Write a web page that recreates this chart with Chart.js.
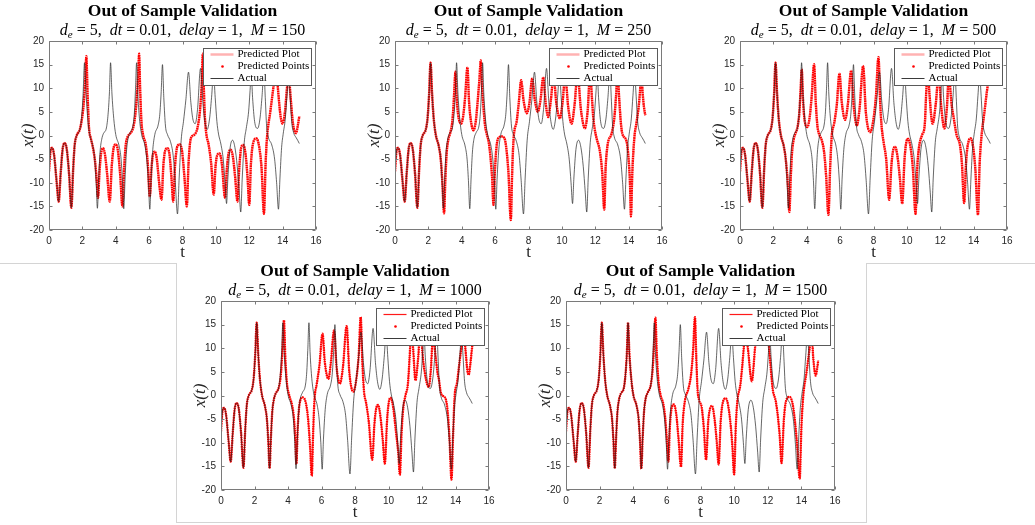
<!DOCTYPE html>
<html>
<head>
<meta charset="utf-8">
<script src="https://cdn.jsdelivr.net/npm/chart.js@4.4.1/dist/chart.umd.min.js"></script>
<style>
  html, body { margin: 0; padding: 0; background: #fff; }
  body { width: 1035px; height: 525px; position: relative; overflow: hidden; }
  canvas { position: absolute; }
  .rule { position: absolute; background: #d4d4d4; }
</style>
</head>
<body>
<div class="rule" style="left:0;top:263px;width:177px;height:1px"></div>
<div class="rule" style="left:176px;top:263px;width:1px;height:259px"></div>
<div class="rule" style="left:176px;top:522px;width:691px;height:1px"></div>
<div class="rule" style="left:866px;top:263px;width:1px;height:260px"></div>
<div class="rule" style="left:866px;top:263px;width:169px;height:1px"></div>

<canvas id="m150" width="345" height="263" style="left:0;top:0"></canvas>
<canvas id="m250" width="345" height="263" style="left:346px;top:0"></canvas>
<canvas id="m500" width="344" height="263" style="left:691px;top:0"></canvas>
<canvas id="m1000" width="346" height="263" style="left:172px;top:260px"></canvas>
<canvas id="m1500" width="347" height="263" style="left:517px;top:260px"></canvas>

<script>
// tick values
const xTickValues = [0, 2, 4, 6, 8, 10, 12, 14, 16];
const yTickValues = [-20, -15, -10, -5, 0, 5, 10, 15, 20];

// actual x(t), [t, x]
const actual = [
  [0,-7.6],[0.08,-3.6],[0.18,-2.6],[0.3,-4.0],[0.45,-9.5],[0.58,-14.0],[0.7,-8.0],[0.82,-2.8],[0.94,-1.6],
  [1.06,-2.8],[1.2,-8.0],[1.34,-15.3],[1.45,-7.0],[1.54,-2.0],[1.66,0.0],[1.84,1.2],[1.95,3.6],[2.04,8.5],
  [2.13,15.4],[2.22,9.0],[2.32,3.6],[2.44,0.2],[2.62,-2.2],[2.74,-5.0],[2.82,-9.5],[2.9,-15.4],[2.98,-9.0],
  [3.06,-3.5],[3.16,-0.8],[3.26,0.4],[3.44,1.6],[3.54,4.5],[3.62,9.0],[3.69,15.4],[3.77,9.0],[3.88,3.6],
  [4.0,0.2],[4.2,-2.2],[4.32,-5.0],[4.4,-9.5],[4.48,-15.5],[4.56,-9.0],[4.64,-3.5],[4.74,-0.6],[4.86,0.6],
  [5.04,2.2],[5.12,5.0],[5.18,9.5],[5.25,15.4],[5.32,9.0],[5.42,3.6],[5.55,0.2],[5.74,-2.0],[5.86,-5.0],
  [5.96,-10.0],[6.04,-15.6],[6.12,-9.0],[6.22,-3.0],[6.34,0.2],[6.54,2.2],[6.64,4.5],[6.72,9.0],[6.8,15.0],
  [6.88,8.0],[6.98,2.0],[7.1,0.2],[7.28,-1.3],[7.44,-4.2],[7.56,-9.5],[7.7,-16.6],[7.8,-9.0],[7.92,-1.0],
  [8.06,3.0],[8.2,7.5],[8.36,13.4],[8.5,7.0],[8.62,3.5],[8.76,2.5],[8.9,5.5],[9.08,14.2],[9.22,7.0],
  [9.34,3.0],[9.48,1.3],[9.62,3.5],[9.74,8.0],[9.86,13.0],[9.96,8.0],[10.06,3.0],[10.16,0.3],[10.3,-1.8],
  [10.44,-5.0],[10.55,-10.0],[10.64,-14.4],[10.72,-9.0],[10.84,-3.0],[11.0,-1.0],[11.14,-2.5],[11.28,-6.5],
  [11.4,-12.0],[11.49,-16.2],[11.58,-9.0],[11.7,-1.5],[11.82,1.5],[11.96,5.0],[12.04,9.0],[12.12,13.0],
  [12.2,8.0],[12.32,3.0],[12.5,1.5],[12.64,3.5],[12.76,8.0],[12.88,13.5],[12.96,8.0],[13.04,2.0],[13.14,-0.3],
  [13.35,-2.0],[13.52,-5.0],[13.64,-10.0],[13.75,-15.6],[13.84,-9.0],[13.94,-2.5],[14.04,0.5],[14.16,3.5],
  [14.26,8.5],[14.36,13.0],[14.44,9.0],[14.54,3.0],[14.66,0.6],[14.8,-0.4],[14.9,-1.0],[15.0,-1.7]
];

// predicted traces: red follows the black trace up to the given t, then these readings
const split150 = 1.84;
const pred150 = [
  [1.95,3.0],[2.06,6.0],[2.16,11.0],[2.24,16.8],[2.31,9.0],[2.4,1.5],[2.5,-0.5],[2.64,-2.7],[2.76,-5.5],
  [2.86,-9.5],[2.94,-13.2],[3.02,-8.0],[3.12,-3.8],[3.24,-2.7],[3.36,-4.2],[3.48,-8.0],[3.64,-14.0],[3.76,-6.5],
  [3.88,-2.5],[4.0,-1.9],[4.12,-3.0],[4.26,-8.0],[4.4,-15.0],[4.5,-7.0],[4.6,-2.0],[4.72,-0.2],[4.84,0.3],
  [5.04,1.6],[5.16,4.0],[5.26,8.0],[5.34,12.5],[5.4,17.3],[5.46,10.0],[5.54,2.9],[5.64,0.1],[5.8,-2.0],
  [5.92,-6.0],[6.04,-12.9],[6.14,-7.0],[6.24,-3.8],[6.34,-3.4],[6.46,-5.0],[6.6,-10.0],[6.74,-13.6],[6.86,-6.0],
  [6.98,-3.0],[7.1,-2.7],[7.22,-4.0],[7.34,-9.0],[7.44,-14.0],[7.56,-6.0],[7.7,-2.2],[7.84,-1.9],[7.98,-3.5],
  [8.12,-9.0],[8.26,-15.0],[8.36,-6.0],[8.5,-0.6],[8.69,0.1],[8.89,1.5],[9.04,5.0],[9.14,10.0],[9.22,17.3],
  [9.28,10.0],[9.34,4.0],[9.42,0.5],[9.57,-2.0],[9.72,-6.0],[9.87,-12.5],[9.98,-6.5],[10.1,-4.0],[10.22,-3.8],
  [10.36,-6.0],[10.55,-13.2],[10.66,-7.0],[10.78,-3.5],[10.89,-3.0],[11.02,-4.5],[11.16,-9.0],[11.29,-14.0],
  [11.4,-7.0],[11.52,-2.5],[11.64,-2.0],[11.78,-4.0],[11.9,-9.0],[12.0,-14.7],[12.1,-6.0],[12.24,-1.5],
  [12.43,-0.6],[12.6,-2.5],[12.74,-7.0],[12.88,-16.6],[12.98,-6.0],[13.06,-0.6],[13.26,5.0],[13.45,10.3],
  [13.6,15.0],[13.74,9.0],[13.88,4.0],[14.0,2.5],[14.14,5.0],[14.26,10.0],[14.36,13.0],[14.48,8.0],[14.62,2.5],
  [14.8,0.5],[14.92,2.3],[15.0,4.1]
];

const split250 = 2.44;
const pred250 = [
  [2.62,-2.2],[2.74,-5.0],[2.84,-10.0],[2.94,-16.5],[3.02,-9.0],[3.1,-3.5],[3.2,-0.8],[3.3,0.4],[3.42,2.5],
  [3.5,6.0],[3.56,10.0],[3.62,13.5],[3.68,9.0],[3.78,4.5],[3.96,2.5],[4.08,4.0],[4.2,8.0],[4.34,14.4],[4.44,7.0],
  [4.56,2.8],[4.7,1.1],[4.84,3.0],[4.96,7.5],[5.06,12.0],[5.14,15.9],[5.22,10.0],[5.3,6.0],[5.4,2.0],[5.5,0.3],
  [5.62,-1.5],[5.72,-4.5],[5.82,-9.0],[5.9,-14.7],[5.98,-8.0],[6.08,-2.5],[6.2,-0.5],[6.4,-0.2],[6.56,-0.6],
  [6.68,-3.0],[6.8,-8.0],[6.94,-17.9],[7.02,-8.0],[7.1,-1.0],[7.3,3.2],[7.42,7.0],[7.56,11.7],[7.7,7.5],
  [7.9,4.7],[8.06,7.0],[8.22,12.1],[8.38,7.5],[8.56,5.0],[8.72,7.5],[8.88,12.3],[9.04,6.5],[9.18,3.9],[9.34,7.5],
  [9.5,12.5],[9.68,6.5],[9.88,3.6],[10.04,7.0],[10.2,12.5],[10.38,6.0],[10.58,2.5],[10.76,6.5],[10.94,13.0],
  [11.14,5.5],[11.38,1.5],[11.54,5.0],[11.7,13.5],[11.8,8.0],[11.88,3.9],[11.96,1.5],[12.08,-0.6],[12.28,-3.4],
  [12.42,-8.0],[12.54,-15.7],[12.62,-7.0],[12.74,-2.0],[12.98,0.4],[13.14,3.6],[13.24,8.0],[13.34,13.0],
  [13.44,7.5],[13.54,2.5],[13.62,0.4],[13.88,-1.3],[14.0,-5.0],[14.08,-10.0],[14.14,-17.1],[14.22,-8.0],
  [14.34,-0.6],[14.48,2.9],[14.6,6.0],[14.68,9.2],[14.76,13.0],[14.84,9.0],[14.92,6.0],[15.0,4.3]
];

const split500 = 2.44;
const pred500 = [
  [2.62,-2.2],[2.74,-5.0],[2.86,-10.0],[2.96,-16.2],[3.04,-9.0],[3.12,-3.5],[3.22,-0.8],[3.32,0.4],[3.46,2.0],
  [3.56,5.0],[3.63,9.5],[3.7,14.0],[3.77,8.0],[3.88,3.0],[4.04,1.8],[4.18,4.0],[4.3,8.5],[4.44,15.1],[4.54,7.0],
  [4.64,2.0],[4.74,0.3],[4.9,-1.0],[5.04,-3.5],[5.16,-8.5],[5.3,-16.8],[5.4,-7.0],[5.5,0.0],[5.64,2.5],[5.8,6.5],
  [5.96,13.1],[6.1,7.0],[6.3,3.3],[6.46,6.5],[6.66,13.7],[6.82,6.0],[7.0,2.1],[7.16,5.5],[7.38,14.7],[7.54,5.0],
  [7.8,0.7],[7.98,3.0],[8.14,8.0],[8.3,16.6],[8.4,7.0],[8.48,2.2],[8.6,-1.3],[8.76,-5.0],[8.94,-13.6],[9.08,-6.0],
  [9.2,-2.8],[9.3,-2.4],[9.44,-4.5],[9.58,-9.0],[9.72,-14.4],[9.86,-5.0],[9.98,-1.2],[10.08,-0.7],[10.22,-2.5],
  [10.36,-7.0],[10.52,-16.6],[10.62,-7.0],[10.72,-2.7],[10.91,0.1],[11.07,2.2],[11.17,9.9],[11.26,14.0],
  [11.34,9.5],[11.54,2.5],[11.74,7.0],[11.9,13.0],[12.06,6.0],[12.25,1.5],[12.4,6.0],[12.52,13.0],[12.62,9.0],
  [12.7,6.0],[12.78,4.3],[12.98,0.1],[13.18,-2.0],[13.3,-6.0],[13.43,-14.3],[13.56,-5.0],[13.7,-1.2],
  [13.83,-0.6],[13.96,-2.2],[14.1,-7.0],[14.26,-16.8],[14.36,-6.0],[14.46,-0.6],[14.65,5.0],[14.85,10.6],[15.0,12.0]
];

const split1000 = 3.44;
const pred1000 = [
  [3.56,4.0],[3.66,9.0],[3.76,15.9],[3.84,8.0],[3.94,2.5],[4.06,0.2],[4.24,-2.0],[4.36,-5.0],[4.44,-9.5],
  [4.5,-14.5],[4.58,-7.0],[4.68,-2.0],[4.88,-0.4],[5.06,-1.5],[5.2,-5.0],[5.32,-11.0],[5.42,-17.0],[5.5,-8.0],
  [5.58,-1.0],[5.72,2.5],[5.88,6.5],[6.06,13.1],[6.2,7.0],[6.41,3.5],[6.56,7.0],[6.75,13.8],[6.9,6.0],[7.1,2.5],
  [7.28,6.0],[7.5,14.7],[7.66,5.0],[7.9,0.8],[8.08,3.5],[8.22,8.5],[8.34,16.6],[8.44,7.0],[8.54,0.8],[8.66,-1.5],
  [8.82,-5.5],[9.03,-13.6],[9.16,-6.0],[9.28,-2.5],[9.38,-2.0],[9.52,-4.5],[9.66,-9.5],[9.78,-14.4],[9.92,-5.0],
  [10.04,-1.0],[10.14,-0.5],[10.28,-2.5],[10.44,-7.5],[10.58,-12.0],[10.68,-16.8],[10.78,-8.0],[10.88,-2.7],
  [11.02,0.1],[11.16,2.5],[11.26,8.0],[11.36,14.0],[11.47,9.9],[11.61,3.2],[11.76,7.5],[11.9,13.5],[12.08,7.0],
  [12.4,1.8],[12.52,5.0],[12.66,12.5],[12.82,8.0],[12.94,4.5],[13.0,3.6],[13.14,0.4],[13.4,-0.6],[13.52,-3.0],
  [13.64,-9.0],[13.76,-17.8],[13.86,-8.0],[13.94,-0.6],[14.1,2.9],[14.25,7.4],[14.39,11.3],[14.48,14.0],
  [14.59,9.9],[14.72,5.0],[14.79,4.4],[14.88,6.5],[15.0,10.5]
];

const split1500 = 5.04;
const pred1500 = [
  [5.14,5.0],[5.22,9.5],[5.32,16.5],[5.4,9.0],[5.5,3.0],[5.62,0.2],[5.8,-2.0],[5.92,-5.5],[6.0,-9.5],[6.09,-14.0],
  [6.18,-6.5],[6.3,-2.4],[6.42,-1.9],[6.56,-4.0],[6.7,-9.5],[6.84,-15.1],[6.94,-6.0],[7.08,-1.0],[7.28,1.4],
  [7.44,4.5],[7.56,9.5],[7.67,16.6],[7.75,8.0],[7.82,1.5],[7.92,-1.0],[8.07,-2.5],[8.2,-7.0],[8.33,-13.6],
  [8.46,-5.5],[8.58,-2.6],[8.68,-2.2],[8.82,-4.5],[8.96,-9.5],[9.08,-14.6],[9.2,-5.5],[9.34,-1.3],[9.5,-0.6],
  [9.64,-2.0],[9.8,-6.5],[9.9,-11.0],[10.0,-16.7],[10.1,-6.5],[10.19,-1.3],[10.38,2.5],[10.57,9.9],[10.66,14.0],
  [10.82,9.9],[11.05,3.0],[11.24,9.9],[11.38,15.0],[11.65,12.0],[11.95,14.5],[12.1,9.2],[12.29,1.5],[12.48,-1.3],
  [12.62,-5.0],[12.72,-9.0],[12.82,-14.3],[12.96,-5.0],[13.1,-1.0],[13.3,-0.3],[13.48,-1.8],[13.62,-5.5],
  [13.76,-11.0],[13.9,-17.6],[14.0,-7.0],[14.1,-0.6],[14.31,5.0],[14.51,10.6],[14.6,13.5],[14.71,7.8],
  [14.85,4.2],[14.95,6.0],[15.0,7.4]
];

const toXY = arr => arr.map(p => ({ x: p[0], y: p[1] }));
const withPrefix = (split, rest) => actual.filter(p => p[0] <= split).concat(rest);

// box with inward ticks on all four sides
const axesBox = {
  id: 'axesBox',
  afterDatasetsDraw(chart) {
    const { ctx, chartArea: a, scales: { x, y } } = chart;
    const L = Math.round(a.left) + 0.5, R = Math.round(a.right) - 0.5;
    const T = Math.round(a.top) + 0.5, B = Math.round(a.bottom) - 0.5;
    ctx.save();
    ctx.strokeStyle = '#7a7a7a';
    ctx.lineWidth = 1;
    ctx.beginPath();
    ctx.rect(L, T, R - L, B - T);
    x.ticks.forEach(t => {
      const px = Math.round(x.getPixelForValue(t.value)) + 0.5;
      ctx.moveTo(px, B); ctx.lineTo(px, B - 3);
      ctx.moveTo(px, T); ctx.lineTo(px, T + 3);
    });
    y.ticks.forEach(t => {
      const py = Math.round(y.getPixelForValue(t.value)) + 0.5;
      ctx.moveTo(L, py); ctx.lineTo(L + 3, py);
      ctx.moveTo(R, py); ctx.lineTo(R - 3, py);
    });
    ctx.stroke();
    ctx.restore();
  }
};

// math subtitle: d_e = 5, dt = 0.01, delay = 1, M = ...
const mathSubtitle = {
  id: 'mathSubtitle',
  afterDraw(chart, args, opts) {
    const { ctx, chartArea: a } = chart;
    const fonts = {
      i: 'italic 16px "Liberation Serif", serif',
      n: '16px "Liberation Serif", serif',
      s: 'italic 11px "Liberation Serif", serif'
    };
    const segs = [['d', 'i'], ['e', 's'], [' = 5,  ', 'n'], ['dt', 'i'], [' = 0.01,  ', 'n'],
      ['delay', 'i'], [' = 1,  ', 'n'], ['M', 'i'], [' = ' + opts.m, 'n']];
    ctx.save();
    let total = 0;
    const widths = segs.map(([txt, f]) => { ctx.font = fonts[f]; const w = ctx.measureText(txt).width; total += w; return w; });
    let cx = (a.left + a.right) / 2 - total / 2;
    const base = a.top - 6;
    ctx.fillStyle = '#000';
    ctx.textBaseline = 'alphabetic';
    ctx.textAlign = 'left';
    segs.forEach(([txt, f], i) => {
      ctx.font = fonts[f];
      ctx.fillText(txt, cx, f === 's' ? base + 3 : base);
      cx += widths[i];
    });
    ctx.restore();
  }
};

// legend box inside the axes, top right
const boxLegend = {
  id: 'boxLegend',
  afterDraw(chart, args, opts) {
    const { ctx, chartArea: a } = chart;
    const w = 108, h = 37;
    const x0 = Math.round(a.right - 5 - w) + 0.5, y0 = Math.round(a.top + 7) + 0.5;
    ctx.save();
    ctx.fillStyle = '#fff';
    ctx.fillRect(x0, y0, w, h);
    ctx.strokeStyle = '#5a5a5a';
    ctx.lineWidth = 1;
    ctx.strokeRect(x0, y0, w, h);
    const rows = [y0 + 6, y0 + 18, y0 + 30];
    // Predicted Plot
    ctx.strokeStyle = opts.legendColor;
    ctx.lineWidth = opts.legendWidth;
    ctx.beginPath(); ctx.moveTo(x0 + 7, rows[0]); ctx.lineTo(x0 + 30, rows[0]); ctx.stroke();
    // Predicted Points
    ctx.fillStyle = '#ff0000';
    ctx.beginPath(); ctx.arc(x0 + 19, rows[1], 1.3, 0, Math.PI * 2); ctx.fill();
    // Actual
    ctx.strokeStyle = '#3a3a3a';
    ctx.lineWidth = 1;
    ctx.beginPath(); ctx.moveTo(x0 + 7, rows[2]); ctx.lineTo(x0 + 30, rows[2]); ctx.stroke();
    ctx.fillStyle = '#000';
    ctx.font = '11px "Liberation Serif", serif';
    ctx.textBaseline = 'middle';
    ctx.fillText('Predicted Plot', x0 + 34, rows[0]);
    ctx.fillText('Predicted Points', x0 + 34, rows[1]);
    ctx.fillText('Actual', x0 + 34, rows[2]);
    ctx.restore();
  }
};

const tickFont = { family: '"Liberation Sans", Arial, sans-serif', size: 10 };

function makeChart(id, m, series, padRight, topRow) {
  const pts = toXY(series);
  const plotColor = topRow ? 'rgba(255,0,0,0.3)' : 'rgba(255,0,0,0.85)';
  const plotWidth = topRow ? 2.5 : 1;
  return new Chart(document.getElementById(id), {
    type: 'line',
    data: {
      datasets: [
        { label: 'Predicted Plot', data: pts, borderColor: plotColor, borderWidth: plotWidth,
          pointRadius: 0, cubicInterpolationMode: 'monotone', order: 2 },
        { label: 'Predicted Points', data: pts, borderColor: '#ff0000', borderWidth: 2.3,
          borderDash: [1.6, 0.7], pointRadius: 0, cubicInterpolationMode: 'monotone', order: 1 },
        { label: 'Actual', data: toXY(actual), borderColor: 'rgba(30,30,30,0.85)', borderWidth: 0.8,
          pointRadius: 0, cubicInterpolationMode: 'monotone', order: 0 }
      ]
    },
    options: {
      responsive: false,
      animation: false,
      devicePixelRatio: 1,
      layout: { padding: { left: 0, right: padRight, top: 0, bottom: 0 } },
      plugins: {
        legend: { display: false },
        tooltip: { enabled: false },
        title: {
          display: true, text: 'Out of Sample Validation', fullSize: false, color: '#000',
          font: { family: '"Liberation Serif", serif', size: 17.5, weight: 'bold' },
          padding: { top: 1, bottom: 19 }
        },
        mathSubtitle: { m },
        boxLegend: {
          legendColor: topRow ? 'rgba(255,0,0,0.3)' : 'rgba(255,0,0,0.9)',
          legendWidth: topRow ? 2.5 : 1.2
        }
      },
      scales: {
        x: {
          type: 'linear', min: 0, max: 16,
          afterBuildTicks: s => { s.ticks = xTickValues.map(v => ({ value: v })); },
          afterFit: s => { s.height = 33; },
          grid: { display: false, drawTicks: false },
          border: { display: false },
          ticks: { padding: 5, color: '#262626', font: tickFont, maxRotation: 0, autoSkip: false,
            callback: v => String(v) },
          title: { display: true, text: 't', color: '#262626',
            font: { family: '"Liberation Serif", serif', size: 17 }, padding: { top: 0, bottom: 0 } }
        },
        y: {
          type: 'linear', min: -20, max: 20,
          afterBuildTicks: s => { s.ticks = yTickValues.map(v => ({ value: v })); },
          afterFit: s => { s.width = 49; },
          grid: { display: false, drawTicks: false },
          border: { display: false },
          ticks: { padding: 5, color: '#262626', font: tickFont, autoSkip: false,
            callback: v => String(v) },
          title: { display: true, text: 'x(t)', color: '#262626',
            font: { family: '"Liberation Serif", serif', size: 17, style: 'italic' },
            padding: { top: 18, bottom: 0 } }
        }
      }
    },
    plugins: [axesBox, mathSubtitle, boxLegend]
  });
}

makeChart('m150', 150, withPrefix(split150, pred150), 29, true);
makeChart('m250', 250, withPrefix(split250, pred250), 29, true);
makeChart('m500', 500, withPrefix(split500, pred500), 28, true);
makeChart('m1000', 1000, withPrefix(split1000, pred1000), 29, false);
makeChart('m1500', 1500, withPrefix(split1500, pred1500), 29, false);
</script>
</body>
</html>
